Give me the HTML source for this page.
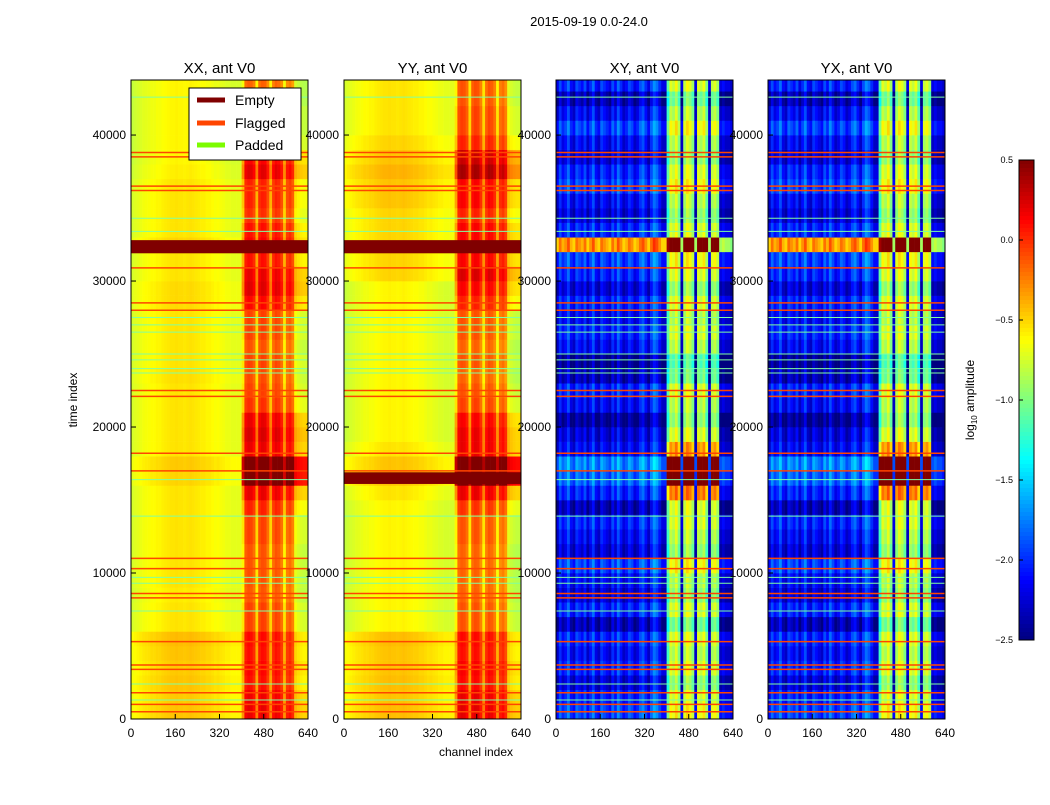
<!DOCTYPE html>
<html><head><meta charset="utf-8"><style>
body{margin:0;background:#fff;font-family:"Liberation Sans",sans-serif}
svg text{font-family:"Liberation Sans",sans-serif;fill:#000}
</style></head><body>
<svg id="chart" width="1050" height="800" viewBox="0 0 1050 800" xmlns="http://www.w3.org/2000/svg">
<rect width="1050" height="800" fill="#fff"/>
<defs id="defs"></defs>
<text x="589" y="26" font-size="13" text-anchor="middle">2015-09-19 0.0-24.0</text>
<text x="77" y="400" font-size="12" text-anchor="middle" transform="rotate(-90 77 400)">time index</text>
<text x="476" y="756" font-size="12" text-anchor="middle">channel index</text>
<text x="974" y="400" font-size="12" text-anchor="middle" transform="rotate(-90 974 400)">log<tspan font-size="8" dy="3">10</tspan><tspan dy="-3"> amplitude</tspan></text>
<g id="panels"></g>
<g id="cbar"></g>
<g>
<rect x="189" y="88" width="112" height="72" fill="#fff" stroke="#000" stroke-width="1"/>
<line x1="197" y1="100" x2="225" y2="100" stroke="#800000" stroke-width="5"/>
<text x="235" y="105" font-size="14">Empty</text>
<line x1="197" y1="123" x2="225" y2="123" stroke="#ff4500" stroke-width="5"/>
<text x="235" y="128" font-size="14">Flagged</text>
<line x1="197" y1="145" x2="225" y2="145" stroke="#7cfc00" stroke-width="5"/>
<text x="235" y="150" font-size="14">Padded</text>
</g>
</svg>
<script>
const panelTitles=["XX, ant V0","YY, ant V0","XY, ant V0","YX, ant V0"];
const panelX=[131,344,556,768];
const xTicks=[0,160,320,480,640];
const yTicks=[0,10000,20000,30000,40000];
const cbTicks=[0.5,0.0,-0.5,-1.0,-1.5,-2.0,-2.5];
// column profiles (64 bins of 10 channels)
const colParallel=[-0.75,-0.72,-0.7,-0.68,-0.66,-0.65,-0.64,-0.62,-0.62,-0.6,-0.6,-0.58,-0.57,-0.56,-0.55,-0.55,-0.54,-0.55,-0.55,-0.56,-0.55,-0.54,-0.55,-0.56,-0.57,-0.58,-0.58,-0.6,-0.6,-0.62,-0.64,-0.63,-0.65,-0.66,-0.68,-0.68,-0.7,-0.7,-0.7,-0.7,-0.6,-0.15,-0.1,-0.12,-0.2,-0.55,-0.15,-0.1,-0.12,-0.25,-0.55,-0.2,-0.12,-0.15,-0.25,-0.6,-0.25,-0.2,-0.3,-0.7,-0.75,-0.78,-0.8,-0.8];
const colCross=[-2.3,-2.0,-2.2,-2.1,-1.9,-2.2,-2.3,-2.0,-2.1,-2.2,-2.0,-2.3,-2.1,-1.9,-2.2,-2.3,-2.0,-2.1,-2.2,-2.3,-2.0,-2.2,-1.9,-2.1,-2.3,-2.2,-2.0,-2.1,-2.3,-2.2,-2.0,-1.9,-2.1,-2.3,-2.0,-1.8,-1.9,-2.1,-2.3,-2.3,-1.2,-0.8,-0.9,-0.7,-1.0,-2.3,-0.9,-0.7,-0.8,-1.0,-2.3,-0.8,-0.9,-0.75,-1.1,-2.3,-0.9,-0.8,-1.0,-2.3,-2.2,-2.3,-2.3,-2.4];
// time profiles (44 bins of 1000 samples)
const rowXX=[0.1,0.08,0.1,0.08,0.1,0.12,0.0,0.0,-0.02,0.0,0.0,0.0,0.0,0.0,0.0,0.0,0.05,0.08,0.0,0.0,0.0,0.0,0.0,0.02,0.0,0.0,0.0,0.0,0.03,0.03,0.0,0.0,0.05,0.0,0.0,0.0,0.0,-0.03,-0.05,-0.05,-0.05,-0.05,-0.05,-0.05];
const rowYY=[0.12,0.1,0.12,0.1,0.1,0.12,-0.05,-0.05,-0.05,-0.05,-0.05,-0.05,-0.05,-0.05,-0.05,0.0,0.1,0.1,0.0,-0.05,-0.05,-0.05,-0.05,-0.05,-0.05,-0.05,-0.05,-0.05,-0.05,-0.05,0.05,0.05,0.05,0.05,0.05,0.1,0.1,0.15,0.1,0.05,0.0,0.0,0.0,0.0];
const rowXY=[0.2,0.1,-0.1,0.1,0.0,0.1,-0.2,0.1,-0.1,0.0,0.2,-0.1,0.0,0.1,-0.2,0.1,0.3,0.4,0.0,-0.1,-0.3,0.0,0.1,-0.2,-0.3,0.0,0.1,0.0,0.1,-0.1,0.1,0.2,1.4,0.1,-0.1,0.0,0.2,0.1,-0.1,0.0,0.2,0.0,-0.2,0.1];
// extra boost in RFI channels per time bin
const hotParallel=[0.2,0.2,0.1,0.15,0.1,0.1,0.05,0.05,0,0,0,0,0.05,0.05,0.15,0.3,0.8,0.8,0.3,0.35,0.3,0.1,0.05,0,0.05,0,0.05,0.05,0.2,0.3,0.3,0.2,0.2,0.2,0.1,0.15,0.15,0.35,0.3,0.1,0.05,0.05,0,0];
const hotCross=[0,0,0,0,0,0,0,0,0,0,0,0,0,0,0.3,0.5,1.6,1.6,0.5,0.2,0.2,0,0,0,0,0,0,0,0,0,0,0,0.2,0,0,0,0,0,0,0,0,0,0,0];
const emptyBands=[[[31900,32800]],[[16100,16900],[31900,32800]],[],[]];
const flaggedTimes=[500,1000,1800,3400,3700,5300,8300,8600,10300,11000,17000,18200,22100,22500,28000,28500,30900,36200,36500,38500,38800];
const paddedTimes=[1300,2400,7400,9300,9700,13900,16400,23700,24000,24600,25000,26500,27000,27500,33400,34300,42600];
const panelCols=[colParallel,colParallel,colCross,colCross];
const panelRows=[rowXX,rowYY,rowXY,rowXY];
const panelHot=[hotParallel,hotParallel,hotCross,hotCross];

const NS="http://www.w3.org/2000/svg";
const PW=177,TOP=80,BOT=719,tMax=43770,NB=64,CW=640/NB;
const yS=t=>BOT-t/tMax*(BOT-TOP);
function jet(v){let x=(v+2.5)/3;x=Math.max(0,Math.min(1,x));
 const r=Math.max(0,Math.min(1,Math.min(4*x-1.5,-4*x+4.5)));
 const g=Math.max(0,Math.min(1,Math.min(4*x-0.5,-4*x+3.5)));
 const b=Math.max(0,Math.min(1,Math.min(4*x+0.5,-4*x+2.5)));
 return `rgb(${Math.round(r*255)},${Math.round(g*255)},${Math.round(b*255)})`;}
function mk(tag,attrs,parent){const e=document.createElementNS(NS,tag);for(const k in attrs)e.setAttribute(k,attrs[k]);parent.appendChild(e);return e;}
const root=document.getElementById('panels');
const defs=document.getElementById('defs');
panelTitles.forEach((title,p)=>{
 const x0=panelX[p];const xS=c=>x0+c/640*PW;
 const cp=mk('clipPath',{id:'clip'+p},defs);
 mk('rect',{x:x0,y:TOP,width:PW,height:BOT-TOP},cp);
 const g=mk('g',{},root);
 
 
 const img=mk('g',{'clip-path':'url(#clip'+p+')'},g);
 const cols=panelCols[p],rows=panelRows[p],hot=panelHot[p];
 rows.forEach((rv,i)=>{cols.forEach((cv,j)=>{
  const v=cv+rv+(j>=40&&cv>-1.5?hot[i]:0)+(j<40&&p>=2&&i===32?0.4:0);
  const r=mk('rect',{x:xS(j*CW),y:yS((i+1)*1000),width:PW/NB+0.3,height:(BOT-TOP)/tMax*1000+0.3,fill:jet(v)},img);
  
  
 });});
 paddedTimes.forEach(t=>{const l=mk('line',{x1:x0,x2:x0+PW,y1:yS(t),y2:yS(t),stroke:'#80ffa0','stroke-width':1},g);
  
  });
 flaggedTimes.forEach(t=>{const l=mk('line',{x1:x0,x2:x0+PW,y1:yS(t),y2:yS(t),stroke:'#ff4500','stroke-width':1.5},g);
  
  });
 emptyBands[p].forEach(b=>{const r=mk('rect',{x:x0,y:yS(b[1]),width:PW,height:yS(b[0])-yS(b[1]),fill:'#800000'},g);
  
  });
 mk('rect',{x:x0,y:TOP,width:PW,height:BOT-TOP,fill:'none',stroke:'#000','stroke-width':1},g);
 const tt=mk('text',{x:x0+PW/2,y:73,'font-size':15,'text-anchor':'middle'},g);tt.textContent=title;
 
 
 xTicks.forEach(v=>{const x=xS(v);mk('line',{x1:x,x2:x,y1:BOT,y2:BOT-5,stroke:'#000'},g);
  const t=mk('text',{x:x,y:BOT+18,'font-size':12,'text-anchor':'middle'},g);t.textContent=v;
  
  });
 yTicks.forEach(v=>{const y=yS(v);mk('line',{x1:x0,x2:x0+5,y1:y,y2:y,stroke:'#000'},g);
  const t=mk('text',{x:x0-5,y:y+4,'font-size':12,'text-anchor':'end'},g);t.textContent=v;
  
  });
});
const cb=document.getElementById('cbar');
const cy=v=>160+(0.5-v)/3*480;
for(let i=0;i<120;i++){const v=0.5-i*3/120;const r=mk('rect',{x:1019,y:cy(v),width:15,height:4.3,fill:jet(v-0.0125)},cb);
 
 }
mk('rect',{x:1019,y:160,width:15,height:480,fill:'none',stroke:'#000'},cb);
cbTicks.forEach(v=>{const y=cy(v);mk('line',{x1:1019,x2:1023,y1:y,y2:y,stroke:'#000'},cb);
 const t=mk('text',{x:1013,y:y+3,'font-size':9,'text-anchor':'end'},cb);t.textContent=(v<0?'\u2212':'')+Math.abs(v).toFixed(1);
 
 });
</script>
</body></html>
